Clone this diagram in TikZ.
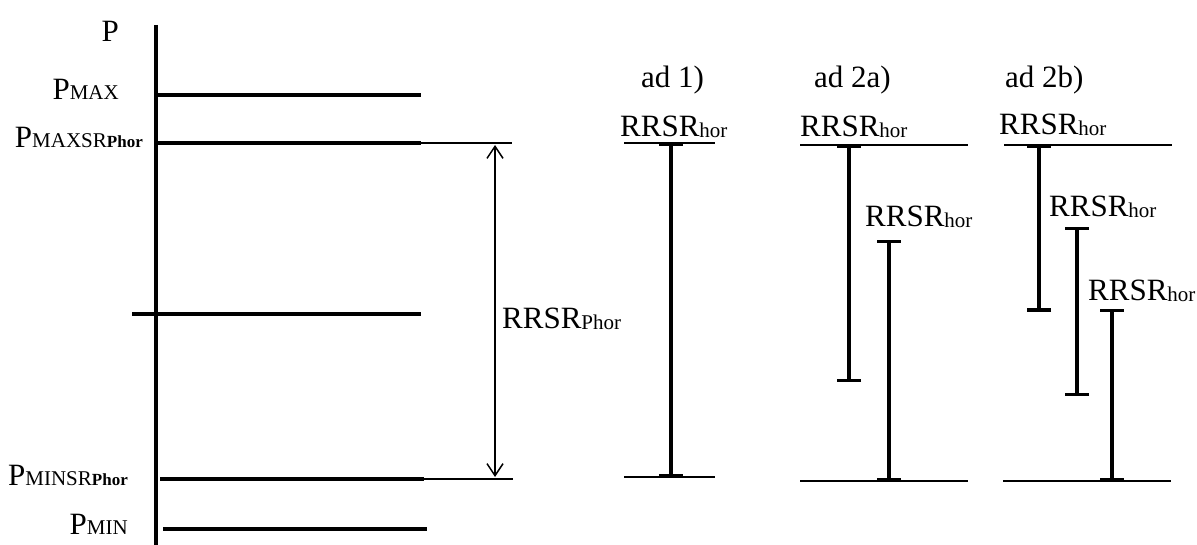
\documentclass[tikz,border=0pt]{standalone}
\usepackage{fontspec}
\setmainfont{Liberation Serif}
\usetikzlibrary{arrows.meta}
\newcommand\lsz{\fontsize{31}{33}\selectfont}
\newcommand\lsub[1]{{\fontsize{21}{22}\selectfont #1}}
\newcommand\lbold[1]{{\fontsize{17}{18}\selectfont\bfseries #1}}
\newcommand\rsz{\fontsize{31}{33}\selectfont}
\newcommand\rsub[1]{\raisebox{-1pt}{\fontsize{21}{22}\selectfont #1}}
\begin{document}
\begin{tikzpicture}[x=1pt,y=-1pt,
  thickln/.style={line width=3.5pt},
  thinln/.style={line width=1.5pt},
  capbar/.style={line width=3.5pt,{Bar[width=24pt]}-{Bar[width=24pt]}},
  dimarrow/.style={line width=1.5pt,{Straight Barb[length=12pt,width=16pt]}-{Straight Barb[length=12pt,width=16pt]}},
  llab/.style={anchor=base east,inner sep=0pt,font=\lsz},
  rlab/.style={anchor=base west,inner sep=0pt,font=\rsz}]
\useasboundingbox (0,0) rectangle (1197,545);
\clip (0,0) rectangle (1197,545);
% left axis
\coordinate (axT) at (156,25);
\coordinate (axB) at (156,545);
\draw[thickln] (axT) -- (axB);
\node[llab] (lP) at (119,42) {P};
\node[llab] (lPmax) at (119,100) {P\lsub{MAX}};
\node[llab] (lPmaxsr) at (143,148) {P\lsub{MAXSR}\lbold{Phor}};
\node[llab] (lPminsr) at (128,485) {P\lsub{MINSR}\lbold{Phor}};
\node[llab] (lPmin) at (128,534) {P\lsub{MIN}};
% horizontal levels
\coordinate (maxA) at (158,95);  \coordinate (maxB) at (421,95);
\draw[thickln] (maxA) -- (maxB);
\coordinate (msA) at (158,143); \coordinate (msB) at (421,143); \coordinate (msC) at (512,143);
\draw[thickln] (msA) -- (msB);
\draw[thinln] (msB) -- (msC);
\coordinate (midA) at (132,314); \coordinate (midB) at (421,314);
\draw[thickln] (midA) -- (midB);
\coordinate (mnsA) at (160,479); \coordinate (mnsB) at (424,479); \coordinate (mnsC) at (513,479);
\draw[thickln] (mnsA) -- (mnsB);
\draw[thinln] (mnsB) -- (mnsC);
\coordinate (minA) at (163,529); \coordinate (minB) at (427,529);
\draw[thickln] (minA) -- (minB);
% dimension arrow
\coordinate (arT) at (495,145);
\coordinate (arB) at (495,477);
\draw[dimarrow] (arT) -- (arB);
\node[rlab] (lRphor) at (502,329) {RRSR\rsub{Phor}};
% ad 1)
\node[rlab] (ad1) at (641,88) {ad 1)};
\node[rlab] (r1) at (620,137) {RRSR\rsub{hor}};
\coordinate (t1A) at (624,143); \coordinate (t1B) at (715,143);
\coordinate (b1A) at (624,477); \coordinate (b1B) at (715,477);
\draw[thinln] (t1A) -- (t1B);
\draw[thinln] (b1A) -- (b1B);
\coordinate (bar1T) at (671,143); \coordinate (bar1B) at (671,477);
\draw[capbar] (bar1T) -- (bar1B);
% ad 2a)
\node[rlab] (ad2a) at (814,88) {ad 2a)};
\node[rlab] (r2a1) at (800,137) {RRSR\rsub{hor}};
\node[rlab] (r2a2) at (865,227) {RRSR\rsub{hor}};
\coordinate (t2aA) at (800,145); \coordinate (t2aB) at (968,145);
\coordinate (b2aA) at (800,481); \coordinate (b2aB) at (968,481);
\draw[thinln] (t2aA) -- (t2aB);
\draw[thinln] (b2aA) -- (b2aB);
\coordinate (bar2a1T) at (849,145); \coordinate (bar2a1B) at (849,382);
\draw[capbar] (bar2a1T) -- (bar2a1B);
\coordinate (bar2a2T) at (889,240); \coordinate (bar2a2B) at (889,481);
\draw[capbar] (bar2a2T) -- (bar2a2B);
% ad 2b)
\node[rlab] (ad2b) at (1005,88) {ad 2b)};
\node[rlab] (r2b1) at (999,135) {RRSR\rsub{hor}};
\node[rlab] (r2b2) at (1049,217) {RRSR\rsub{hor}};
\node[rlab] (r2b3) at (1088,301) {RRSR\rsub{hor}};
\coordinate (t2bA) at (1004,145); \coordinate (t2bB) at (1172,145);
\coordinate (b2bA) at (1003,481); \coordinate (b2bB) at (1171,481);
\draw[thinln] (t2bA) -- (t2bB);
\draw[thinln] (b2bA) -- (b2bB);
\coordinate (bar2b1T) at (1039,145); \coordinate (bar2b1B) at (1039,312);
\draw[capbar] (bar2b1T) -- (bar2b1B);
\coordinate (bar2b2T) at (1077,227); \coordinate (bar2b2B) at (1077,396);
\draw[capbar] (bar2b2T) -- (bar2b2B);
\coordinate (bar2b3T) at (1112,309); \coordinate (bar2b3B) at (1112,481);
\draw[capbar] (bar2b3T) -- (bar2b3B);
\end{tikzpicture}
\end{document}
